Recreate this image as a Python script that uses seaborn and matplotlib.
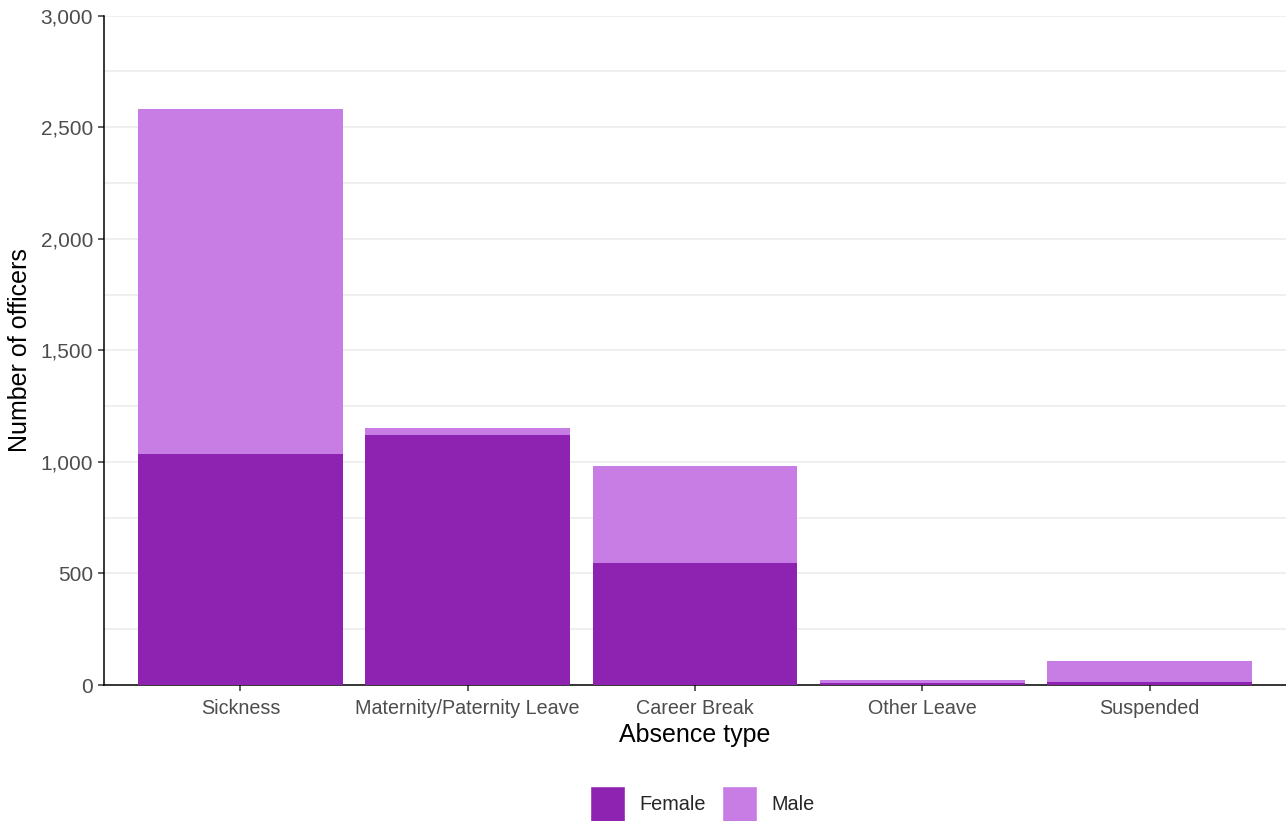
import pandas as pd
import matplotlib.pyplot as plt
import seaborn as sns
from matplotlib.patches import Patch
from matplotlib.ticker import FuncFormatter, MultipleLocator

# Data
absence_types = ["Sickness", "Maternity/Paternity Leave", "Career Break", "Other Leave", "Suspended"]
female = [1037, 1121, 547, 10, 13]
male = [1543, 32, 435, 12, 96]

female_color = "#8E23B2"
male_color = "#C87DE5"

data = pd.DataFrame({"absence_type": absence_types, "female": female, "male": male})
data["total"] = data["female"] + data["male"]

sns.set_style("white")
plt.rcParams["font.family"] = ["Liberation Sans", "DejaVu Sans"]

fig = plt.figure(figsize=(12.86, 8.21), dpi=100)
ax = fig.add_axes([104 / 1286, 1 - 685 / 821, 1 - 104 / 1286, (685 - 15.7) / 821])

# stacked: total bars (male colour) then female on top
sns.barplot(data=data, x="absence_type", y="total", color=male_color, width=0.9,
            saturation=1, linewidth=0, ax=ax, zorder=2)
sns.barplot(data=data, x="absence_type", y="female", color=female_color, width=0.9,
            saturation=1, linewidth=0, ax=ax, zorder=3)

ax.set_xlim(-0.6, 4.6)
ax.set_ylim(0, 3000)
ax.yaxis.set_major_locator(MultipleLocator(500))
ax.yaxis.set_minor_locator(MultipleLocator(250))
ax.yaxis.set_major_formatter(FuncFormatter(lambda v, p: f"{int(v):,}"))
ax.grid(axis="y", which="both", color="#EBEBEB", linewidth=1.1, zorder=0)
ax.grid(axis="x", visible=False)
ax.set_axisbelow(True)

for s in ["top", "right"]:
    ax.spines[s].set_visible(False)
for s in ["left", "bottom"]:
    ax.spines[s].set_color("black")
    ax.spines[s].set_linewidth(1.1)

ax.tick_params(axis="both", which="major", length=4, width=1.1, color="#333333",
               labelcolor="#4D4D4D", pad=4, left=True, bottom=True)
ax.tick_params(axis="x", which="major", pad=6, labelsize=14.2)
ax.tick_params(axis="y", which="major", labelsize=15)
ax.tick_params(axis="y", which="minor", length=0)

ax.set_xlabel("Absence type", fontsize=18, color="black", labelpad=4)
ax.set_ylabel("Number of officers", fontsize=18, color="black", labelpad=6)

handles = [Patch(facecolor=female_color, label="Female"), Patch(facecolor=male_color, label="Male")]
fig.legend(handles=handles, loc="center", bbox_to_anchor=(702 / 1286, 1 - 804 / 821), ncol=2,
           frameon=False, fontsize=14.3, handlelength=1.8, handleheight=2.35,
           columnspacing=0.8, handletextpad=0.7)

fig.savefig("out.png", dpi=100)
